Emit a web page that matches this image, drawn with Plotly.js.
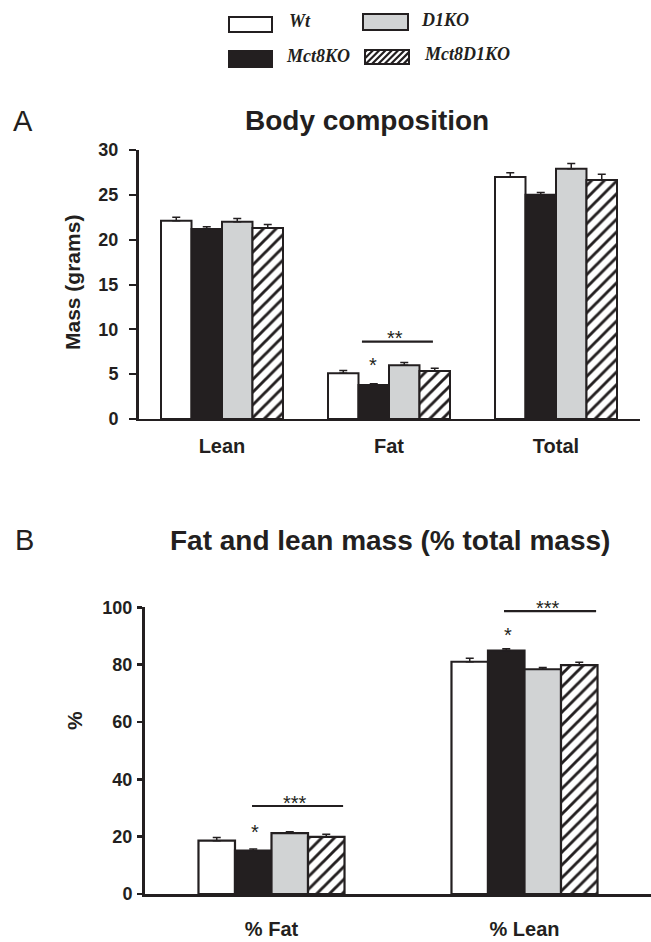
<!DOCTYPE html>
<html>
<head>
<meta charset="utf-8">
<script src="https://cdn.plot.ly/plotly-3.0.1.min.js"></script>
<style>html,body{margin:0;padding:0;background:#fff;}#chart{width:651px;height:942px;}</style>
</head>
<body>
<div id="chart"></div>
<script>
// ---------- data ----------
var groups = ['Wt', 'Mct8KO', 'D1KO', 'Mct8D1KO'];

var categoriesA = ['Lean', 'Fat', 'Total'];
var wtA      = [22.1, 5.1, 27.0];
var wtAErr   = [0.4, 0.3, 0.45];
var mct8A    = [21.2, 3.8, 25.0];
var mct8AErr = [0.25, 0.12, 0.25];
var d1A      = [22.0, 6.0, 27.9];
var d1AErr   = [0.35, 0.3, 0.6];
var dkoA     = [21.3, 5.35, 26.65];
var dkoAErr  = [0.4, 0.3, 0.65];

var categoriesB = ['% Fat', '% Lean'];
var wtB      = [18.6, 81.0];
var wtBErr   = [1.1, 1.2];
var mct8B    = [15.1, 84.9];
var mct8BErr = [0.6, 0.6];
var d1B      = [21.2, 78.4];
var d1BErr   = [0.5, 0.6];
var dkoB     = [19.9, 79.8];
var dkoBErr  = [0.9, 1.0];

var yTicksA = [0, 5, 10, 15, 20, 25, 30];
var yTicksB = [0, 20, 40, 60, 80, 100];
var yMaxA = 30, yMaxB = 100;

// significance marks: [category index, offset within group, value, label]
var starsA = [[1, -0.097, 6.58, '*'], [1, 0.036, 9.6, '**']];
var barsA  = [[1, -0.162, 0.263, 8.62]];
var starsB = [[0, -0.065, 23.4, '*'], [0, 0.093, 33.5, '***'], [1, -0.065, 92.1, '*'], [1, 0.093, 101.5, '***']];
var barsB  = [[0, -0.077, 0.283, 30.7], [1, -0.081, 0.283, 98.7]];

// ---------- styles ----------
var INK = '#231f20';
var GREY = '#d1d3d4';
var W = 651, H = 942;
function px(x) { return x / W; }
function py(y) { return 1 - y / H; }

var styles = [
  {color: 'white'},
  {color: INK},
  {color: GREY},
  {color: 'white', pattern: {shape: '/', fgcolor: INK, bgcolor: 'white', size: 9, solidity: 0.32, fillmode: 'replace'}}
];

function makeBar(cats, vals, errs, i, xa, ya, w, lw) {
  var m = {color: styles[i].color, line: {color: INK, width: lw}};
  if (styles[i].pattern) m.pattern = styles[i].pattern;
  return {
    type: 'bar', x: cats, y: vals, name: groups[i],
    xaxis: xa, yaxis: ya,
    width: w, offset: -2 * w + i * w,
    marker: m,
    error_y: {type: 'data', symmetric: false, array: errs, arrayminus: errs.map(function(){return 0;}),
              color: INK, thickness: 1.5, width: 4},
    showlegend: false, hoverinfo: 'skip'
  };
}

var wA = 0.1826, wB = 0.1443;
var traces = [
  makeBar(categoriesA, wtA, wtAErr, 0, 'x', 'y', wA, 2),
  makeBar(categoriesA, mct8A, mct8AErr, 1, 'x', 'y', wA, 2),
  makeBar(categoriesA, d1A, d1AErr, 2, 'x', 'y', wA, 2),
  makeBar(categoriesA, dkoA, dkoAErr, 3, 'x', 'y', wA, 2),
  makeBar(categoriesB, wtB, wtBErr, 0, 'x2', 'y2', wB, 2.2),
  makeBar(categoriesB, mct8B, mct8BErr, 1, 'x2', 'y2', wB, 2.2),
  makeBar(categoriesB, d1B, d1BErr, 2, 'x2', 'y2', wB, 2.2),
  makeBar(categoriesB, dkoB, dkoBErr, 3, 'x2', 'y2', wB, 2.2)
];

var annotations = [];
var shapes = [];

function txt(x, y, text, size, opts) {
  var a = {xref: 'paper', yref: 'paper', x: px(x), y: py(y), text: text, showarrow: false,
           xanchor: 'center', yanchor: 'middle',
           font: {family: 'Liberation Sans, Arial, sans-serif', size: size, color: INK}};
  for (var k in (opts || {})) a[k] = opts[k];
  return a;
}
var boldFont = function (s) { return {family: 'Liberation Sans, Arial', size: s, color: INK, weight: 'bold'}; };

// titles and panel letters
annotations.push(txt(23, 121, 'A', 29));
annotations.push(txt(367, 121, 'Body composition', 28, {font: boldFont(28)}));
annotations.push(txt(24, 540, 'B', 29));
annotations.push(txt(390, 540, 'Fat and lean mass (% total mass)', 28, {font: boldFont(28)}));
// axis titles
annotations.push(txt(72, 283, 'Mass (grams)', 21, {textangle: -90, font: boldFont(21)}));
annotations.push(txt(74, 721, '%', 21, {textangle: -90, font: boldFont(21)}));

// significance
function addStars(list, xr, yr, ymax) {
  list.forEach(function (s) {
    annotations.push({xref: xr, yref: yr + ' domain', x: s[0] + s[1], y: s[2] / ymax, text: s[3], showarrow: false,
      xanchor: 'center', yanchor: 'middle', yshift: -5,
      font: {family: 'Liberation Sans, Arial', size: 20, color: INK}});
  });
}
function addLines(list, xr, yr) {
  list.forEach(function (b) {
    shapes.push({type: 'line', xref: xr, yref: yr, x0: b[0] + b[1], x1: b[0] + b[2], y0: b[3], y1: b[3],
      line: {color: INK, width: 2.2}});
  });
}
addStars(starsA, 'x', 'y', yMaxA); addLines(barsA, 'x', 'y');
addStars(starsB, 'x2', 'y2', yMaxB); addLines(barsB, 'x2', 'y2');

// legend swatches
var swatches = [
  {x0: 229, x1: 272, y0: 17, y1: 32, fill: 'white', label: groups[0], tx: 287, ty: 21},
  {x0: 363, x1: 408, y0: 14, y1: 30, fill: GREY, label: groups[2], tx: 419, ty: 20},
  {x0: 229, x1: 272, y0: 51, y1: 67, fill: INK, label: groups[1], tx: 284, ty: 56},
  {x0: 365, x1: 409, y0: 50, y1: 64, fill: 'white', label: groups[3], tx: 422, ty: 54, hatch: true}
];
swatches.forEach(function (s) {
  shapes.push({type: 'rect', xref: 'paper', yref: 'paper', x0: px(s.x0), x1: px(s.x1), y0: py(s.y1), y1: py(s.y0),
    fillcolor: s.fill, line: {color: INK, width: 2}});
  if (s.hatch) {
    var w = s.x1 - s.x0, h = s.y1 - s.y0, step = 6.3, d = '';
    for (var t = -h + 2; t < w; t += step) {
      var xs = t, ys = 0, xe = t + h, ye = h;
      if (xs < 0) { ys = -xs; xs = 0; }
      if (xe > w) { ye = h - (xe - w); xe = w; }
      d += 'M' + px(s.x0 + xs) + ',' + py(s.y1 - ys) + 'L' + px(s.x0 + xe) + ',' + py(s.y1 - ye);
    }
    shapes.push({type: 'path', xref: 'paper', yref: 'paper', path: d, line: {color: INK, width: 2.2}});
  }
  annotations.push(txt(s.tx, s.ty, s.label, 17, {xanchor: 'left',
    font: {family: 'Liberation Serif, Times New Roman, serif', size: 18, color: INK, weight: 'bold', style: 'italic'}}));
});

var tickFont = boldFont(18);
var catFont = boldFont(20);

var layout = {
  width: W, height: H,
  margin: {l: 0, r: 0, t: 0, b: 0},
  paper_bgcolor: 'white', plot_bgcolor: 'rgba(0,0,0,0)',
  showlegend: false,
  barmode: 'overlay',
  xaxis: {domain: [138.5 / W, 639.5 / W], anchor: 'y', type: 'category', range: [-0.5, 2.5],
    showline: true, linecolor: INK, linewidth: 1.5, ticks: '', showgrid: false, zeroline: false,
    tickfont: catFont, ticklabelstandoff: 8, fixedrange: true},
  yaxis: {domain: [1 - 419 / H, 1 - 150 / H], anchor: 'x', range: [0, yMaxA],
    tickvals: yTicksA, ticks: 'outside', ticklen: 7, tickwidth: 2, tickcolor: INK,
    showline: true, linecolor: INK, linewidth: 2.5, showgrid: false, zeroline: false,
    tickfont: tickFont, ticklabelstandoff: 7, fixedrange: true},
  xaxis2: {domain: [145 / W, 1], anchor: 'y2', type: 'category', range: [-0.5, 1.5],
    showline: true, linecolor: INK, linewidth: 3, ticks: '', showgrid: false, zeroline: false,
    tickfont: catFont, ticklabelstandoff: 15, fixedrange: true},
  yaxis2: {domain: [1 - 894 / H, 1 - 607.3 / H], anchor: 'x2', range: [0, yMaxB],
    tickvals: yTicksB, ticks: 'outside', ticklen: 5, tickwidth: 2.5, tickcolor: INK,
    showline: true, linecolor: INK, linewidth: 3, showgrid: false, zeroline: false,
    tickfont: tickFont, ticklabelstandoff: 1, fixedrange: true},
  annotations: annotations,
  shapes: shapes
};

Plotly.newPlot('chart', traces, layout, {staticPlot: true, displayModeBar: false});
</script>
</body>
</html>
